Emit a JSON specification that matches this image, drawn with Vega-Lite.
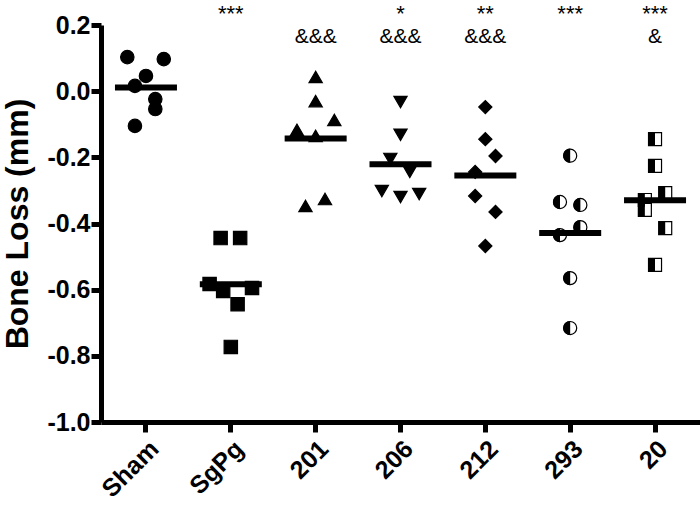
{
  "$schema": "https://vega.github.io/schema/vega-lite/v6.json",
  "autosize": "none",
  "width": 599,
  "height": 397,
  "padding": {"left": 101, "top": 25, "right": 0, "bottom": 84},
  "background": "white",
  "config": {
    "view": {"stroke": null},
    "axis": {
      "grid": false,
      "domainColor": "black",
      "domainWidth": 5,
      "tickColor": "black",
      "tickWidth": 5,
      "tickSize": 10,
      "labelColor": "black",
      "labelFont": "Liberation Sans",
      "labelFontWeight": "bold",
      "titleColor": "black",
      "titleFont": "Liberation Sans",
      "titleFontWeight": "bold"
    }
  },
  "datasets": {
    "pts": [
      {"group": "Sham", "jitter": -0.22, "loss": 0.103},
      {"group": "Sham", "jitter": 0.21, "loss": 0.097},
      {"group": "Sham", "jitter": 0.0, "loss": 0.046},
      {"group": "Sham", "jitter": -0.13, "loss": 0.016},
      {"group": "Sham", "jitter": 0.11, "loss": -0.024},
      {"group": "Sham", "jitter": 0.11, "loss": -0.054},
      {"group": "Sham", "jitter": -0.13, "loss": -0.105},
      {"group": "SgPg", "jitter": -0.12, "loss": -0.444},
      {"group": "SgPg", "jitter": 0.11, "loss": -0.444},
      {"group": "SgPg", "jitter": -0.25, "loss": -0.583},
      {"group": "SgPg", "jitter": -0.09, "loss": -0.604},
      {"group": "SgPg", "jitter": 0.25, "loss": -0.595},
      {"group": "SgPg", "jitter": 0.08, "loss": -0.644},
      {"group": "SgPg", "jitter": 0.0, "loss": -0.773},
      {"group": "201", "jitter": 0.0, "loss": 0.043},
      {"group": "201", "jitter": 0.0, "loss": -0.03},
      {"group": "201", "jitter": 0.22, "loss": -0.087},
      {"group": "201", "jitter": -0.22, "loss": -0.117},
      {"group": "201", "jitter": 0.0, "loss": -0.135},
      {"group": "201", "jitter": 0.11, "loss": -0.326},
      {"group": "201", "jitter": -0.12, "loss": -0.347},
      {"group": "206", "jitter": 0.0, "loss": -0.033},
      {"group": "206", "jitter": 0.0, "loss": -0.132},
      {"group": "206", "jitter": -0.12, "loss": -0.205},
      {"group": "206", "jitter": 0.11, "loss": -0.244},
      {"group": "206", "jitter": -0.22, "loss": -0.302},
      {"group": "206", "jitter": 0.0, "loss": -0.32},
      {"group": "206", "jitter": 0.22, "loss": -0.311},
      {"group": "212", "jitter": 0.0, "loss": -0.048},
      {"group": "212", "jitter": 0.0, "loss": -0.145},
      {"group": "212", "jitter": 0.12, "loss": -0.196},
      {"group": "212", "jitter": -0.12, "loss": -0.244},
      {"group": "212", "jitter": -0.12, "loss": -0.317},
      {"group": "212", "jitter": 0.12, "loss": -0.365},
      {"group": "212", "jitter": 0.0, "loss": -0.468},
      {"group": "293", "jitter": 0.0, "loss": -0.195},
      {"group": "293", "jitter": -0.12, "loss": -0.335},
      {"group": "293", "jitter": 0.12, "loss": -0.344},
      {"group": "293", "jitter": -0.12, "loss": -0.435},
      {"group": "293", "jitter": 0.12, "loss": -0.411},
      {"group": "293", "jitter": 0.0, "loss": -0.565},
      {"group": "293", "jitter": 0.0, "loss": -0.716},
      {"group": "20", "jitter": 0.0, "loss": -0.145},
      {"group": "20", "jitter": 0.0, "loss": -0.226},
      {"group": "20", "jitter": -0.12, "loss": -0.329},
      {"group": "20", "jitter": -0.12, "loss": -0.359},
      {"group": "20", "jitter": 0.12, "loss": -0.308},
      {"group": "20", "jitter": 0.12, "loss": -0.414},
      {"group": "20", "jitter": 0.0, "loss": -0.525}
    ],
    "sig": [
      {"group": "SgPg", "stars": "***", "amp": ""},
      {"group": "201", "stars": "", "amp": "&&&"},
      {"group": "206", "stars": "*", "amp": "&&&"},
      {"group": "212", "stars": "**", "amp": "&&&"},
      {"group": "293", "stars": "***", "amp": ""},
      {"group": "20", "stars": "***", "amp": "&"}
    ]
  },
  "encoding": {
    "x": {
      "field": "group",
      "type": "nominal",
      "sort": ["Sham", "SgPg", "201", "206", "212", "293", "20"],
      "scale": {"type": "band", "domain": ["Sham", "SgPg", "201", "206", "212", "293", "20"], "paddingInner": 0, "paddingOuter": 0.03},
      "axis": {"title": null, "labelAngle": -45, "labelFontSize": 25, "labelPadding": 4}
    }
  },
  "layer": [
    {
      "data": {"name": "pts"},
      "mark": {"type": "point", "filled": true, "stroke": "black", "strokeWidth": 1.2, "opacity": 1},
      "encoding": {
        "xOffset": {"field": "jitter", "type": "quantitative", "scale": {"domain": [-0.5, 0.5], "range": [0, 84.84]}},
        "y": {
          "field": "loss",
          "type": "quantitative",
          "scale": {"domain": [-1.0, 0.2], "nice": false, "zero": false},
          "axis": {
            "values": [-1.0, -0.8, -0.6, -0.4, -0.2, 0.0, 0.2],
            "labelExpr": "replace(format(datum.value, '.1f'), '\u2212', '-')",
            "labelFontSize": 25,
            "labelPadding": 1,
            "title": "Bone Loss (mm)",
            "titleFontSize": 32,
            "titlePadding": 12
          }
        },
        "shape": {
          "field": "group",
          "type": "nominal",
          "legend": null,
          "scale": {
            "domain": ["Sham", "SgPg", "201", "206", "212", "293", "20"],
            "range": ["circle", "square", "triangle-up", "triangle-down", "diamond", "circle", "square"]
          }
        },
        "size": {
          "field": "group",
          "type": "nominal",
          "legend": null,
          "scale": {
            "domain": ["Sham", "SgPg", "201", "206", "212", "293", "20"],
            "range": [180, 169, 175, 175, 230, 200, 180]
          }
        },
        "fill": {
          "field": "group",
          "type": "nominal",
          "legend": null,
          "scale": {
            "domain": ["Sham", "SgPg", "201", "206", "212", "293", "20"],
            "range": ["black", "black", "black", "black", "black", "white", "white"]
          }
        }
      }
    },
    {
      "data": {"name": "pts"},
      "transform": [{"filter": "datum.group === '293'"}],
      "mark": {"type": "point", "filled": true, "color": "black", "opacity": 1, "size": 200, "shape": "M0,-1A1,1,0,0,0,0,1Z"},
      "encoding": {
        "xOffset": {"field": "jitter", "type": "quantitative"},
        "y": {"field": "loss", "type": "quantitative"}
      }
    },
    {
      "data": {"name": "pts"},
      "transform": [{"filter": "datum.group === '20'"}],
      "mark": {"type": "point", "filled": true, "color": "black", "opacity": 1, "size": 180, "shape": "M-1,-1H0V1H-1Z"},
      "encoding": {
        "xOffset": {"field": "jitter", "type": "quantitative"},
        "y": {"field": "loss", "type": "quantitative"}
      }
    },
    {
      "data": {"name": "pts"},
      "mark": {"type": "tick", "color": "black", "size": 62, "thickness": 6, "opacity": 1},
      "encoding": {
        "y": {"field": "loss", "type": "quantitative", "aggregate": "mean"}
      }
    },
    {
      "data": {"name": "sig"},
      "mark": {"type": "text", "font": "Liberation Sans", "fontSize": 22, "color": "black", "baseline": "alphabetic", "align": "center"},
      "encoding": {
        "y": {"datum": 0.212},
        "text": {"field": "stars"}
      }
    },
    {
      "data": {"name": "sig"},
      "mark": {"type": "text", "font": "Liberation Sans", "fontSize": 21, "color": "black", "baseline": "alphabetic", "align": "center"},
      "encoding": {
        "y": {"datum": 0.1456},
        "text": {"field": "amp"}
      }
    }
  ]
}
